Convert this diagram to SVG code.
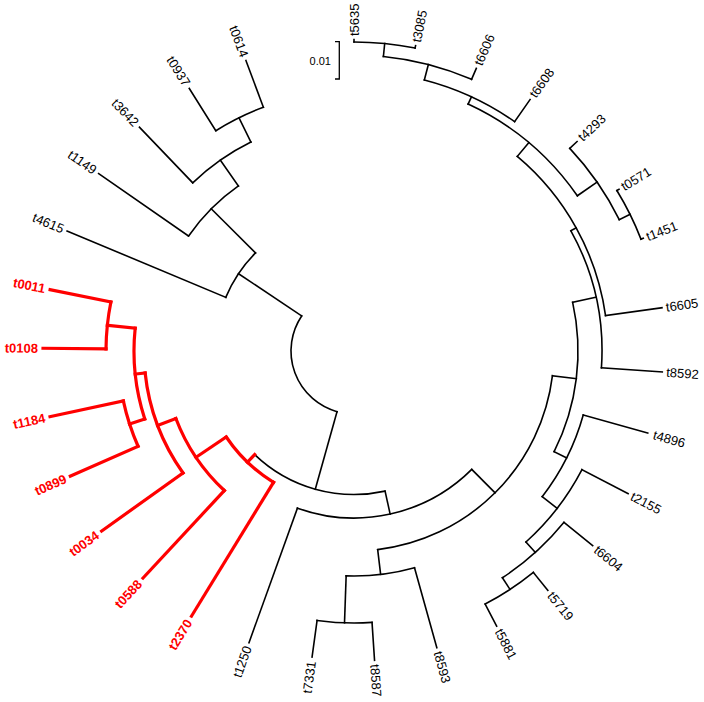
<svg xmlns="http://www.w3.org/2000/svg" width="704" height="702" viewBox="0 0 704 702">
<style>
.b{fill:none;stroke:#000;stroke-width:1.6;stroke-linecap:square}
.r{fill:none;stroke:#f00;stroke-width:3.2;stroke-linecap:square}
text{font-family:"Liberation Sans",Arial,sans-serif;font-size:13px;fill:#000}
.lr{fill:#f00;font-weight:bold}
.s{font-size:11px}
</style>
<rect width="704" height="702" fill="#fff"/>
<g transform="translate(354,351)">
<g id="connectors">
<g class="b">
<path d="M-17.00,60.66 A63,63 0 0 1 -52.35,-35.05"/>
<path d="M-128.23,-53.64 A139,139 0 0 1 -98.45,-98.12"/>
<path d="M-165.39,-115.0 A201.5,201.5 0 0 1 -115.58,-165.07"/>
<path d="M-161.26,-168.18 A233,233 0 0 1 -103.06,-208.98"/>
<path d="M-138.16,-220.25 A260,260 0 0 1 -90.64,-243.70"/>
<path d="M31.05,140.10 A143.5,143.5 0 0 1 -99.32,103.58"/>
<path d="M117.77,118.40 A167,167 0 0 1 -56.56,157.13"/>
<path d="M198.46,24.72 A200,200 0 0 1 23.68,198.6"/>
<path d="M60.50,216.72 A225,225 0 0 1 -7.85,224.87"/>
<path d="M18.03,271.40 A272,272 0 0 1 -36.91,269.47"/>
<path d="M218.65,-48.68 A224,224 0 0 1 200.12,100.64"/>
<path d="M229.24,64.0 A238,238 0 0 1 188.19,145.70"/>
<path d="M227.96,118.66 A257,257 0 0 1 171.96,190.98"/>
<path d="M210.0,171.27 A271,271 0 0 1 148.40,226.77"/>
<path d="M179.35,221.47 A285,285 0 0 1 131.16,253.02"/>
<path d="M216.90,-120.23 A248,248 0 0 1 247.43,16.86"/>
<path d="M163.27,-194.56 A254,254 0 0 1 251.54,-35.36"/>
<path d="M114.10,-246.92 A272,272 0 0 1 223.34,-155.23"/>
<path d="M70.34,-271.01 A280,280 0 0 1 160.61,-229.38"/>
<path d="M29.39,-294.55 A296,296 0 0 1 117.54,-271.67"/>
<path d="M0,-309 A309,309 0 0 1 61.09,-302.91"/>
<path d="M215.78,-202.61 A296,296 0 0 1 265.25,-131.36"/>
<path d="M262.88,-160.47 A308,308 0 0 1 286.96,-111.90"/>
<line transform="rotate(303.8)" y1="-63" y2="-139"/>
<line transform="rotate(314.9)" y1="-139" y2="-201.5"/>
<line transform="rotate(325)" y1="-201.5" y2="-233"/>
<line transform="rotate(333.75)" y1="-233" y2="-260"/>
<line transform="rotate(195.65)" y1="-63" y2="-143.5"/>
<line transform="rotate(167.5)" y1="-143.5" y2="-167"/>
<line transform="rotate(135.15)" y1="-167" y2="-200"/>
<line transform="rotate(173.2)" y1="-200" y2="-225"/>
<line transform="rotate(182)" y1="-225" y2="-272"/>
<line transform="rotate(97.1)" y1="-200" y2="-224"/>
<line transform="rotate(116.7)" y1="-224" y2="-238"/>
<line transform="rotate(127.75)" y1="-238" y2="-257"/>
<line transform="rotate(138)" y1="-257" y2="-271"/>
<line transform="rotate(146.8)" y1="-271" y2="-285"/>
<line transform="rotate(77.45)" y1="-224" y2="-248"/>
<line transform="rotate(61)" y1="-248" y2="-254"/>
<line transform="rotate(40)" y1="-254" y2="-272"/>
<line transform="rotate(24.8)" y1="-272" y2="-280"/>
<line transform="rotate(14.55)" y1="-280" y2="-296"/>
<line transform="rotate(5.7)" y1="-296" y2="-309"/>
<line transform="rotate(55.2)" y1="-272" y2="-296"/>
<line transform="rotate(63.65)" y1="-296" y2="-308"/>
<line transform="rotate(0)" y1="-309" y2="-311.5"/>
<line transform="rotate(11.4)" y1="-309" y2="-311.5"/>
<line transform="rotate(23.4)" y1="-296" y2="-308"/>
<line transform="rotate(35)" y1="-280" y2="-307"/>
<line transform="rotate(46.8)" y1="-296" y2="-306"/>
<line transform="rotate(58.6)" y1="-308" y2="-310.5"/>
<line transform="rotate(68.7)" y1="-308" y2="-310.5"/>
<line transform="rotate(82)" y1="-254" y2="-311"/>
<line transform="rotate(93.9)" y1="-248" y2="-309"/>
<line transform="rotate(105.6)" y1="-238" y2="-305"/>
<line transform="rotate(117.5)" y1="-257" y2="-309"/>
<line transform="rotate(129.2)" y1="-271" y2="-308"/>
<line transform="rotate(141)" y1="-285" y2="-308"/>
<line transform="rotate(152.6)" y1="-285" y2="-310"/>
<line transform="rotate(164.4)" y1="-225" y2="-308"/>
<line transform="rotate(176.2)" y1="-272" y2="-310"/>
<line transform="rotate(187.8)" y1="-272" y2="-309"/>
<line transform="rotate(199.8)" y1="-167" y2="-310"/>
<line transform="rotate(292.7)" y1="-139" y2="-311"/>
<line transform="rotate(304.8)" y1="-201.5" y2="-311"/>
<line transform="rotate(316.2)" y1="-233" y2="-310"/>
<line transform="rotate(327.9)" y1="-260" y2="-310"/>
<line transform="rotate(339.6)" y1="-260" y2="-310"/>
</g>
<g class="r">
<path d="M-80.47,131.30 A154,154 0 0 1 -127.74,86.01"/>
<path d="M-129.67,139.54 A190.5,190.5 0 0 1 -178.12,67.53"/>
<path d="M-170.96,121.95 A210,210 0 0 1 -208.85,22.03"/>
<path d="M-209.24,67.98 A220,220 0 0 1 -218.81,-22.81"/>
<path d="M-215.94,95.23 A236,236 0 0 1 -230.67,49.87"/>
<path d="M-247.99,-2.16 A248,248 0 0 1 -243.11,-49.03"/>
<line transform="rotate(223.8)" y1="-143.5" y2="-154"/>
<line transform="rotate(236.07)" y1="-154" y2="-190.5"/>
<line transform="rotate(249.24)" y1="-190.5" y2="-210"/>
<line transform="rotate(263.98)" y1="-210" y2="-220"/>
<line transform="rotate(252)" y1="-220" y2="-236"/>
<line transform="rotate(275.95)" y1="-220" y2="-248"/>
<line transform="rotate(211.5)" y1="-154" y2="-311"/>
<line transform="rotate(222.9)" y1="-190.5" y2="-310"/>
<line transform="rotate(234.5)" y1="-210" y2="-310"/>
<line transform="rotate(246.2)" y1="-236" y2="-310"/>
<line transform="rotate(257.8)" y1="-236" y2="-311"/>
<line transform="rotate(270.5)" y1="-248" y2="-311"/>
<line transform="rotate(281.4)" y1="-248" y2="-310"/>
</g>
</g>
<g id="tip-t5635"><text transform="rotate(-90)" x="315" dy=".35em">t5635</text></g>
<g id="tip-t3085"><text transform="rotate(-78.6)" x="315" dy=".35em">t3085</text></g>
<g id="tip-t6606"><text transform="rotate(-66.6)" x="312" dy=".35em">t6606</text></g>
<g id="tip-t6608"><text transform="rotate(-55)" x="311" dy=".35em">t6608</text></g>
<g id="tip-t4293"><text transform="rotate(-43.2)" x="310" dy=".35em">t4293</text></g>
<g id="tip-t0571"><text transform="rotate(-31.4)" x="314" dy=".35em">t0571</text></g>
<g id="tip-t1451"><text transform="rotate(-21.3)" x="314" dy=".35em">t1451</text></g>
<g id="tip-t6605"><text transform="rotate(-8)" x="315" dy=".35em">t6605</text></g>
<g id="tip-t8592"><text transform="rotate(3.9)" x="313" dy=".35em">t8592</text></g>
<g id="tip-t4896"><text transform="rotate(15.6)" x="311" dy=".35em">t4896</text></g>
<g id="tip-t2155"><text transform="rotate(27.5)" x="313" dy=".35em">t2155</text></g>
<g id="tip-t6604"><text transform="rotate(39.2)" x="312" dy=".35em">t6604</text></g>
<g id="tip-t5719"><text transform="rotate(51)" x="312" dy=".35em">t5719</text></g>
<g id="tip-t5881"><text transform="rotate(62.6)" x="314" dy=".35em">t5881</text></g>
<g id="tip-t8593"><text transform="rotate(74.4)" x="312" dy=".35em">t8593</text></g>
<g id="tip-t8587"><text transform="rotate(86.2)" x="314" dy=".35em">t8587</text></g>
<g id="tip-t7331"><text transform="rotate(-82.2)" x="-313" dy=".35em" text-anchor="end">t7331</text></g>
<g id="tip-t1250"><text transform="rotate(-70.2)" x="-314" dy=".35em" text-anchor="end">t1250</text></g>
<g id="tip-t2370"><text class="lr" transform="rotate(-58.5)" x="-316" dy=".35em" text-anchor="end">t2370</text></g>
<g id="tip-t0588"><text class="lr" transform="rotate(-47.1)" x="-315" dy=".35em" text-anchor="end">t0588</text></g>
<g id="tip-t0034"><text class="lr" transform="rotate(-35.5)" x="-315" dy=".35em" text-anchor="end">t0034</text></g>
<g id="tip-t0899"><text class="lr" transform="rotate(-23.8)" x="-315" dy=".35em" text-anchor="end">t0899</text></g>
<g id="tip-t1184"><text class="lr" transform="rotate(-12.2)" x="-316" dy=".35em" text-anchor="end">t1184</text></g>
<g id="tip-t0108"><text class="lr" transform="rotate(0.5)" x="-316" dy=".35em" text-anchor="end">t0108</text></g>
<g id="tip-t0011"><text class="lr" transform="rotate(11.4)" x="-315" dy=".35em" text-anchor="end">t0011</text></g>
<g id="tip-t4615"><text transform="rotate(22.7)" x="-315" dy=".35em" text-anchor="end">t4615</text></g>
<g id="tip-t1149"><text transform="rotate(34.8)" x="-315" dy=".35em" text-anchor="end">t1149</text></g>
<g id="tip-t3642"><text transform="rotate(46.2)" x="-314" dy=".35em" text-anchor="end">t3642</text></g>
<g id="tip-t0937"><text transform="rotate(57.9)" x="-314" dy=".35em" text-anchor="end">t0937</text></g>
<g id="tip-t0614"><text transform="rotate(69.6)" x="-314" dy=".35em" text-anchor="end">t0614</text></g>
</g>
<g id="scale-bar">
<path d="M335,41.7 H339.3 V79 H335" fill="none" stroke="#000" stroke-width="1.3"/>
<text class="s" x="331" y="65" text-anchor="end">0.01</text>
</g>
</svg>
